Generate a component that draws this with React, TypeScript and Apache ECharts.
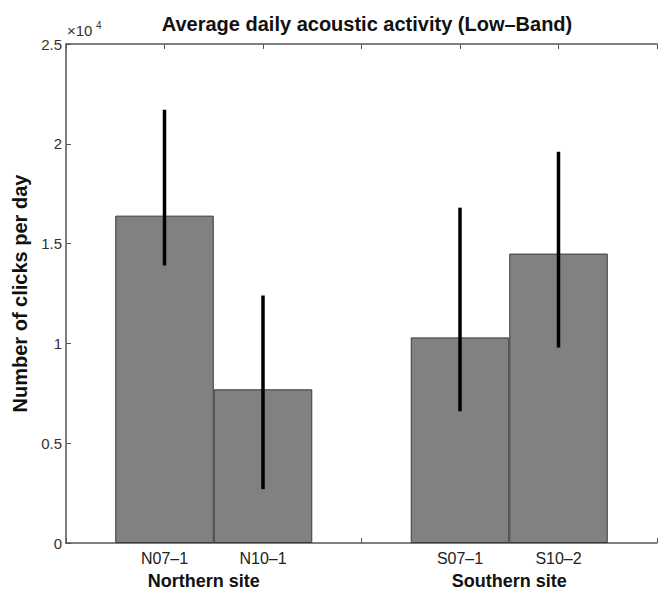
import React, { useEffect, useRef } from "react";
import * as echarts from "echarts";

const categories = ["N07–1", "N10–1", "S07–1", "S10–2"];
const positions = [1, 2, 4, 5];
const means = [16400, 7700, 10300, 14500];
const errLow = [13900, 2700, 6600, 9800];
const errHigh = [21700, 12400, 16800, 19600];
const sites = ["Northern site", "Southern site"];
const sitePositions = [1.5, 4.5];
const yMax = 25000;
const yStep = 5000;
const yScale = 10000;

const FONT = "'Liberation Sans', Arial, Helvetica, sans-serif";

export default function App() {
  const ref = useRef<HTMLDivElement>(null);
  useEffect(() => {
    document.body.style.margin = "0";
    if (!ref.current) return;
    const chart = echarts.init(ref.current, null, { renderer: "svg" });
    const labelFor = (v: number) => {
      const i = positions.indexOf(v);
      return i >= 0 ? categories[i] : "";
    };
    const siteFor = (v: number) => {
      const i = sitePositions.indexOf(v);
      if (i < 0) return "";
      return i === 0 ? `{n|${sites[i]}}` : `{s|${sites[i]}}`;
    };
    const axisLine = { show: true, lineStyle: { color: "#555", width: 1.5 } };
    const siteStyle = { fontSize: 18, fontWeight: "bold", color: "#111", fontFamily: FONT };
    chart.setOption({
      animation: false,
      backgroundColor: "#fff",
      textStyle: { fontFamily: FONT },
      title: {
        text: "Average daily acoustic activity (Low–Band)",
        left: 367,
        textAlign: "center",
        top: 14,
        padding: 0,
        textStyle: { fontFamily: FONT, fontSize: 20, fontWeight: "bold", color: "#111" },
      },
      graphic: [
        {
          type: "text",
          left: 67,
          top: 23,
          style: { text: "×10", font: `15px ${FONT}`, fill: "#333" },
        },
        {
          type: "text",
          left: 96,
          top: 20,
          style: { text: "4", font: `10px ${FONT}`, fill: "#333" },
        },
      ],
      grid: { left: 66, right: -6, top: 44, bottom: 50, containLabel: false },
      xAxis: [
        {
          type: "value",
          position: "bottom",
          min: 0,
          max: 6,
          interval: 1,
          axisLine,
          axisTick: { show: true, inside: true, length: 5, lineStyle: { color: "#555" } },
          splitLine: { show: false },
          axisLabel: {
            show: true,
            margin: 7,
            fontSize: 16,
            color: "#222",
            fontFamily: FONT,
            formatter: (v: number) => labelFor(v),
          },
        },
        {
          type: "value",
          position: "bottom",
          min: 0,
          max: 6,
          interval: 1.5,
          axisLine: { show: false },
          axisTick: { show: false },
          splitLine: { show: false },
          axisLabel: {
            show: true,
            margin: 29,
            ...siteStyle,
            formatter: (v: number) => siteFor(v),
            rich: {
              n: { ...siteStyle, padding: [0, 20, 0, 0] },
              s: { ...siteStyle },
            },
          },
        },
        {
          type: "value",
          position: "top",
          min: 0,
          max: 6,
          interval: 1,
          axisLine,
          axisTick: { show: true, inside: true, length: 5, lineStyle: { color: "#555" } },
          splitLine: { show: false },
          axisLabel: { show: false },
        },
      ],
      yAxis: {
        type: "value",
        min: 0,
        max: yMax,
        interval: yStep,
        name: "Number of clicks per day",
        nameLocation: "middle",
        nameGap: 33,
        nameTextStyle: { fontFamily: FONT, fontSize: 20, fontWeight: "bold", color: "#111" },
        axisLine,
        axisTick: { show: true, inside: true, length: 5, lineStyle: { color: "#555" } },
        splitLine: { show: false },
        axisLabel: {
          margin: 4,
          fontSize: 15,
          color: "#333",
          fontFamily: FONT,
          formatter: (v: number) => String(v / yScale),
        },
      },
      series: [
        {
          type: "bar",
          xAxisIndex: 0,
          yAxisIndex: 0,
          barWidth: "100%",
          data: positions.map((p, i) => [p, means[i]]),
          itemStyle: { color: "#818181", borderColor: "#3a3a3a", borderWidth: 1 },
          z: 2,
        },
        {
          type: "custom",
          xAxisIndex: 0,
          yAxisIndex: 0,
          encode: { x: 0, y: [1, 2] },
          data: positions.map((p, i) => [p, errLow[i], errHigh[i]]),
          renderItem: (params: any, api: any) => {
            const x = api.value(0);
            const a = api.coord([x, api.value(1)]);
            const b = api.coord([x, api.value(2)]);
            return {
              type: "line",
              shape: { x1: a[0], y1: a[1], x2: b[0], y2: b[1] },
              style: { stroke: "#000", lineWidth: 3.5 },
            };
          },
          z: 5,
        },
      ],
    });
    return () => chart.dispose();
  }, []);
  return <div ref={ref} style={{ width: 660, height: 593 }} />;
}
